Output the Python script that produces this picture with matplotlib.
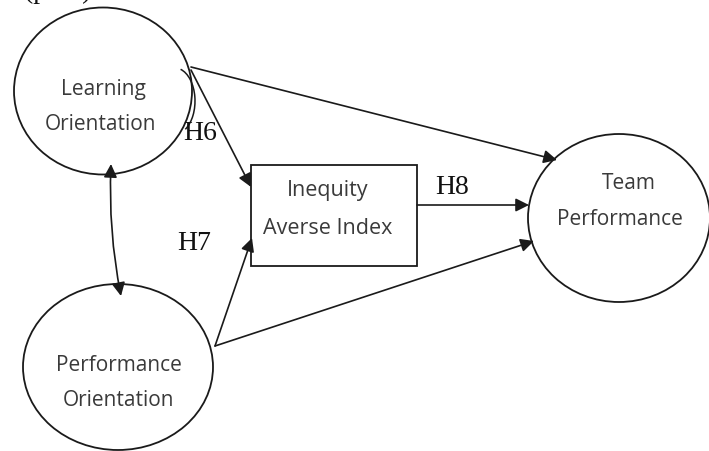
import matplotlib.pyplot as plt
from matplotlib.patches import Ellipse, Rectangle, Arc

# node texts
node_names = ["Learning\nOrientation", "Performance\nOrientation", "Inequity\nAverse Index", "Team\nPerformance"]
hyp_labels = ["H6", "H7", "H8"]

# layout in pixels (y downwards)
ellipses = {
    "LO": (103, 92, 178, 167),
    "PO": (118, 368, 190, 166),
    "TP": (619, 219, 182, 168),
}
box = (251, 166, 166, 101)

fig = plt.figure(figsize=(7.09, 4.52), dpi=100, facecolor='white')
ax = fig.add_axes([0, 0, 1, 1])
ax.set_xlim(0, 709)
ax.set_ylim(452, 0)
ax.axis('off')

lc = '#1a1a1a'
for key in ellipses:
    cx, cy, w, h = ellipses[key]
    ax.add_patch(Ellipse((cx, cy), w, h, fill=False, ec=lc, lw=1.3))
ax.add_patch(Rectangle((box[0], box[1]), box[2], box[3], fill=False, ec=lc, lw=1.3))

sans = 'Open Sans'
tc = '#3a3a3a'
lo, po, ia, tp = [n.split("\n") for n in node_names]
ax.text(103, 89, lo[0], ha='center', va='center', fontsize=15, family=sans, color=tc)
ax.text(101, 125, lo[1], ha='center', va='center', fontsize=15, family=sans, color=tc)
ax.text(119, 366, po[0], ha='center', va='center', fontsize=15, family=sans, color=tc)
ax.text(118, 401, po[1], ha='center', va='center', fontsize=15, family=sans, color=tc)
ax.text(328, 191, ia[0], ha='center', va='center', fontsize=15.5, family=sans, color=tc)
ax.text(328, 229, ia[1], ha='center', va='center', fontsize=15.5, family=sans, color=tc)
ax.text(629, 184, tp[0], ha='center', va='center', fontsize=15, family=sans, color=tc)
ax.text(620, 220, tp[1], ha='center', va='center', fontsize=15, family=sans, color=tc)

serif = 'Liberation Serif'
ax.text(200, 134, hyp_labels[0], ha='center', va='center', fontsize=20, family=serif, color='#111')
ax.text(194, 244, hyp_labels[1], ha='center', va='center', fontsize=20, family=serif, color='#111')
ax.text(452, 188, hyp_labels[2], ha='center', va='center', fontsize=20, family=serif, color='#111')

# caption cut off at the top edge, as in the source
ax.text(58, -9, "(p.    )", ha='center', va='center', fontsize=20, family=serif, color='#111')

arrow_args = dict(arrowstyle='-|>', color=lc, lw=1.2, mutation_scale=20, shrinkA=0, shrinkB=0)
edges = [
    ((191, 68), (557, 161)),
    ((191, 71), (251, 188)),
    ((417, 206), (529, 206)),
    ((215, 347), (252, 239)),
    ((215, 347), (534, 242)),
]
for start, end in edges:
    ax.annotate('', xy=end, xytext=start, arrowprops=arrow_args)

# double headed correlation arrow
ax.annotate('', xy=(121, 297), xytext=(111, 165),
            arrowprops=dict(arrowstyle='<|-|>', color=lc, lw=1.2, mutation_scale=20,
                            shrinkA=0, shrinkB=0, connectionstyle='arc3,rad=0.06'))

# small arc near H6
ax.add_patch(Arc((175, 102), 40, 66, theta1=-80, theta2=70, ec=lc, lw=1.1))

fig.savefig('out.png', dpi=100, facecolor='white')
